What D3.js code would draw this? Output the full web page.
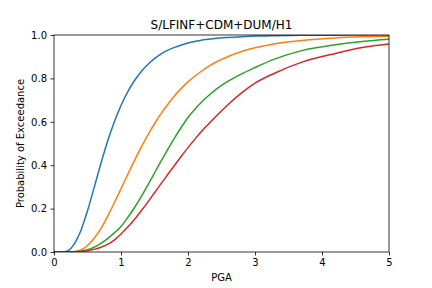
<!DOCTYPE html>
<html>
<head>
<meta charset="utf-8">
<script src="https://cdn.jsdelivr.net/npm/d3@7"></script>
<style>
  body { margin: 0; background: #fff; }
  svg text { font-family: "DejaVu Sans", sans-serif; fill: #000; }
</style>
</head>
<body>
<svg id="chart" width="432" height="288"></svg>
<script>
const pga = [0, 0.1, 0.15, 0.2, 0.25, 0.3, 0.35, 0.4, 0.45, 0.5, 0.6, 0.7, 0.8, 0.9, 1.0, 1.1, 1.2, 1.3, 1.4, 1.5, 1.6, 1.7, 1.8, 1.9, 2.0, 2.1, 2.2, 2.3, 2.4, 2.6, 2.8, 3.0, 3.3, 3.7, 4.2, 4.6, 5.0];
const seriesBlue =   [0, 0.0001, 0.0008, 0.005, 0.016, 0.036, 0.064, 0.098, 0.142, 0.19, 0.298, 0.408, 0.51, 0.599, 0.675, 0.738, 0.789, 0.831, 0.864, 0.891, 0.913, 0.930, 0.943, 0.954, 0.963, 0.970, 0.976, 0.980, 0.984, 0.989, 0.9925, 0.995, 0.997, 0.9985, 0.9993, 0.9996, 0.9998];
const seriesOrange = [0, 0, 0, 0.0001, 0.0006, 0.002, 0.005, 0.010, 0.018, 0.030, 0.063, 0.108, 0.164, 0.227, 0.292, 0.357, 0.421, 0.482, 0.539, 0.591, 0.639, 0.681, 0.720, 0.754, 0.784, 0.810, 0.833, 0.854, 0.872, 0.901, 0.924, 0.941, 0.960, 0.975, 0.9865, 0.9915, 0.9946];
const seriesGreen =  [0, 0, 0, 0, 0.0003, 0.001, 0.002, 0.004, 0.007, 0.011, 0.022, 0.040, 0.062, 0.088, 0.118, 0.159, 0.204, 0.254, 0.308, 0.364, 0.420, 0.474, 0.526, 0.575, 0.620, 0.657, 0.690, 0.719, 0.745, 0.787, 0.821, 0.850, 0.890, 0.928, 0.955, 0.970, 0.980];
const seriesRed =    [0, 0, 0, 0, 0.0002, 0.0005, 0.001, 0.002, 0.004, 0.006, 0.012, 0.022, 0.035, 0.055, 0.083, 0.115, 0.150, 0.189, 0.230, 0.273, 0.316, 0.358, 0.400, 0.441, 0.481, 0.519, 0.555, 0.588, 0.620, 0.680, 0.733, 0.778, 0.825, 0.875, 0.915, 0.942, 0.958];
const xTicks = [0, 1, 2, 3, 4, 5];
const yTicks = [0, 0.2, 0.4, 0.6, 0.8, 1.0];
const colors = ["#1f77b4", "#ff7f0e", "#2ca02c", "#d62728"];
const titleText = "S/LFINF+CDM+DUM/H1";
const xLabel = "PGA";
const yLabel = "Probability of Exceedance";

const svg = d3.select("#chart");
const m = {left: 54, right: 389, top: 35, bottom: 252};
const x = d3.scaleLinear().domain([0, 5]).range([m.left, m.right]);
const y = d3.scaleLinear().domain([0, 1]).range([m.bottom, m.top]);

const series = [seriesBlue, seriesOrange, seriesGreen, seriesRed];
svg.append("clipPath").attr("id", "clip").append("rect")
  .attr("x", m.left).attr("y", m.top).attr("width", m.right - m.left).attr("height", m.bottom - m.top);

const line = d3.line().x((d, i) => x(pga[i])).y(d => y(d)).curve(d3.curveMonotoneX);
const g = svg.append("g").attr("clip-path", "url(#clip)");
series.forEach((s, k) => {
  g.append("path").datum(s).attr("d", line).attr("fill", "none")
    .attr("stroke", colors[k]).attr("stroke-width", 1.5).attr("stroke-linejoin", "round").attr("stroke-linecap", "square");
});

const xAxis = svg.append("g").attr("transform", `translate(0,${m.bottom})`)
  .call(d3.axisBottom(x).tickValues(xTicks).tickFormat(d3.format("d")).tickSize(3.5).tickPadding(3.5));
const yAxis = svg.append("g").attr("transform", `translate(${m.left},0)`)
  .call(d3.axisLeft(y).tickValues(yTicks).tickFormat(d3.format(".1f")).tickSize(3.5).tickPadding(3.5));
[xAxis, yAxis].forEach(a => {
  a.select(".domain").remove();
  a.selectAll("text").attr("font-size", 10).attr("font-family", "DejaVu Sans");
  a.selectAll("line").attr("stroke", "#000").attr("stroke-width", 0.8);
});

svg.append("rect").attr("x", m.left).attr("y", m.top)
  .attr("width", m.right - m.left).attr("height", m.bottom - m.top)
  .attr("fill", "none").attr("stroke", "#000").attr("stroke-width", 0.8);

svg.append("text").attr("x", (m.left + m.right) / 2).attr("y", 29)
  .attr("text-anchor", "middle").attr("font-size", 12).text(titleText);
svg.append("text").attr("x", (m.left + m.right) / 2).attr("y", 281)
  .attr("text-anchor", "middle").attr("font-size", 10).text(xLabel);
svg.append("text").attr("transform", `translate(24,${(m.top + m.bottom) / 2}) rotate(-90)`)
  .attr("text-anchor", "middle").attr("font-size", 10).text(yLabel);
</script>
</body>
</html>
